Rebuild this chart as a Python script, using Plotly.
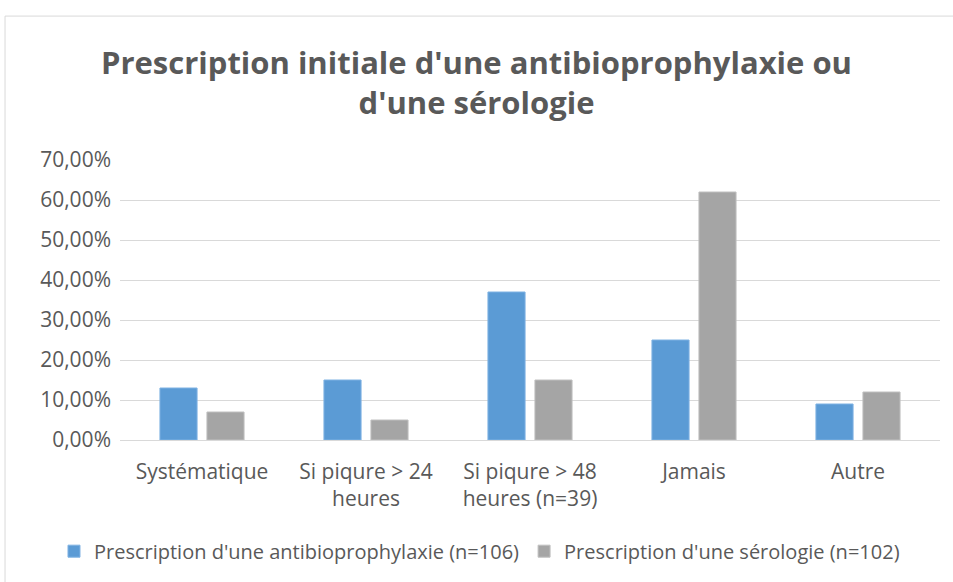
import plotly.graph_objects as go

categories = ["Systématique", "Si piqure > 24<br>heures", "Si piqure > 48<br>heures (n=39)", "Jamais", "Autre"]
antibio = [0.13, 0.15, 0.37, 0.25, 0.09]
serologie = [0.07, 0.05, 0.15, 0.62, 0.12]
series_names = ["Prescription d'une antibioprophylaxie (n=106)", "Prescription d'une sérologie (n=102)"]
tick_vals = [0, 0.1, 0.2, 0.3, 0.4, 0.5, 0.6, 0.7]

font_family = "'Open Sans', sans-serif"
grey_text = "#595959"

fig = go.Figure()
fig.add_bar(x=categories, y=antibio, name=series_names[0],
            marker=dict(color="#5b9bd5", line=dict(color="#7fb2e3", width=1)))
fig.add_bar(x=categories, y=serologie, name=series_names[1],
            marker=dict(color="#a5a5a5", line=dict(color="#c0c0c0", width=1)))

fig.update_layout(
    width=953, height=582,
    margin=dict(l=120, r=13, t=160, b=142, autoexpand=False),
    paper_bgcolor="white", plot_bgcolor="white",
    separators=", ",
    barmode="group", bargap=0.427, bargroupgap=0.21,
    font=dict(family=font_family, color=grey_text, size=20),
    title=dict(
        text="<b>Prescription initiale d'une antibioprophylaxie ou<br>d'une sérologie</b>",
        x=0.5, xanchor="center", y=0.873, yanchor="middle",
        font=dict(family=font_family, size=31, color=grey_text),
    ),
    # anchored left, just outside the plot area, so it may use the full width on one row
    legend=dict(orientation="h", x=-0.0805, xanchor="left",
                y=-0.397, yanchor="middle",
                font=dict(size=20, color=grey_text), itemwidth=30,
                traceorder="normal"),
    showlegend=True,
)
fig.update_xaxes(showgrid=False, showline=False, ticks="", ticklabelstandoff=17,
                 tickfont=dict(size=21))
fig.update_yaxes(range=[0, 0.7], tickvals=tick_vals, tickformat=".2%",
                 gridcolor="#d9d9d9", gridwidth=1, zeroline=True,
                 zerolinecolor="#d9d9d9", zerolinewidth=1,
                 showline=False, ticks="", ticklabelstandoff=8, tickfont=dict(size=21))

# chart frame border
fig.add_shape(type="rect", xref="paper", yref="paper",
              x0=-0.1402, x1=1.02, y0=-0.6, y1=1.514,
              line=dict(color="#d9d9d9", width=1), fillcolor="rgba(0,0,0,0)", layer="below")

fig.write_html("out.html", config={"displayModeBar": False},
               post_script="document.body.style.margin='0';")
